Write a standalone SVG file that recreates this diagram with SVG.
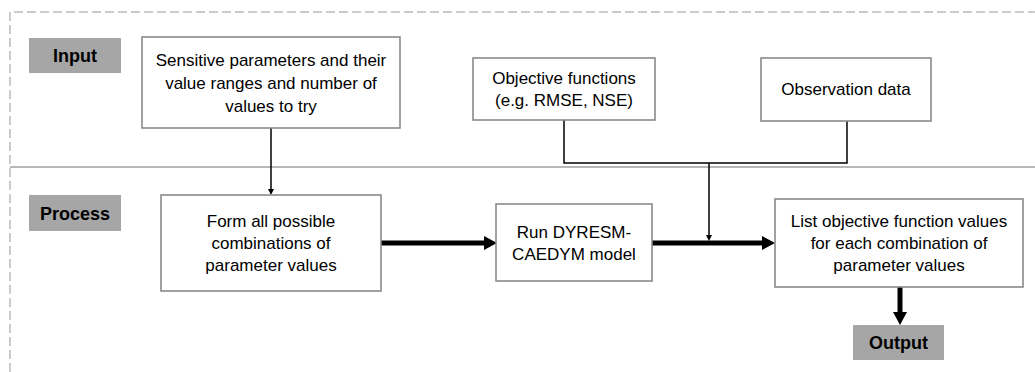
<svg xmlns="http://www.w3.org/2000/svg" width="1035" height="372" viewBox="0 0 1035 372">
<style>
  .box { fill: #ffffff; stroke: #8a8a8a; stroke-width: 1.6; }
  .lbl { fill: #a6a6a6; }
  .t { font-family: "Liberation Sans", Arial, sans-serif; font-size: 17px; fill: #000; text-anchor: middle; }
  .b { font-weight: bold; font-size: 18px; }
  .thin { stroke: #000; stroke-width: 1.5; fill: none; }
  .thick { stroke: #000; stroke-width: 5; fill: none; }
</style>
<defs>
  <marker id="bigHead" markerUnits="userSpaceOnUse" markerWidth="14" markerHeight="15" refX="0" refY="7" orient="auto">
    <path d="M0,0 L13,7 L0,14 z" fill="#000"/>
  </marker>
  <marker id="smallHead" markerUnits="userSpaceOnUse" markerWidth="7" markerHeight="7" refX="0" refY="3" orient="auto">
    <path d="M0,0 L6,3 L0,6 z" fill="#000"/>
  </marker>
</defs>
<rect width="1035" height="372" fill="#ffffff"/>
<g id="frame">
  <path d="M10,372 V12 H1035" fill="none" stroke="#999999" stroke-width="1" stroke-dasharray="9,4"/>
  <line x1="10" y1="167" x2="1035" y2="167" stroke="#a0a0a0" stroke-width="1.5"/>
</g>
<g id="connectors">
  <path class="thin" d="M271,128 V189" marker-end="url(#smallHead)"/>
  <path class="thin" d="M564,120 V163 H847 V121"/>
  <path class="thin" d="M709,163 V235" marker-end="url(#smallHead)"/>
  <path class="thick" d="M381,243 H484" marker-end="url(#bigHead)"/>
  <path class="thick" d="M652,243 H762" marker-end="url(#bigHead)"/>
  <path class="thick" d="M900,287 V312" marker-end="url(#bigHead)"/>
</g>
<g id="input-label">
  <rect class="lbl" x="29" y="38" width="92" height="35"/>
  <text class="t b" x="75" y="62">Input</text>
</g>
<g id="process-label">
  <rect class="lbl" x="29" y="195" width="92" height="36"/>
  <text class="t b" x="75" y="219.5">Process</text>
</g>
<g id="output-label">
  <rect class="lbl" x="853" y="325" width="91" height="35"/>
  <text class="t b" x="898.5" y="349">Output</text>
</g>
<g id="sensitive">
  <rect class="box" x="142" y="37" width="258" height="91"/>
  <text class="t" x="271" y="66">Sensitive parameters and their</text>
  <text class="t" x="271" y="89">value ranges and number of</text>
  <text class="t" x="271" y="112">values to try</text>
</g>
<g id="objective">
  <rect class="box" x="473" y="58" width="182" height="62"/>
  <text class="t" x="564" y="84">Objective functions</text>
  <text class="t" x="564" y="106">(e.g. RMSE, NSE)</text>
</g>
<g id="observation">
  <rect class="box" x="761" y="58" width="170" height="63"/>
  <text class="t" x="846" y="95">Observation data</text>
</g>
<g id="form">
  <rect class="box" x="161" y="195" width="220" height="96"/>
  <text class="t" x="271" y="227">Form all possible</text>
  <text class="t" x="271" y="249">combinations of</text>
  <text class="t" x="271" y="271">parameter values</text>
</g>
<g id="run">
  <rect class="box" x="496" y="204" width="156" height="77"/>
  <text class="t" x="574" y="238">Run DYRESM-</text>
  <text class="t" x="574" y="260">CAEDYM model</text>
</g>
<g id="list">
  <rect class="box" x="775" y="199" width="248" height="88"/>
  <text class="t" x="899" y="227">List objective function values</text>
  <text class="t" x="899" y="249">for each combination of</text>
  <text class="t" x="899" y="271">parameter values</text>
</g>
</svg>
